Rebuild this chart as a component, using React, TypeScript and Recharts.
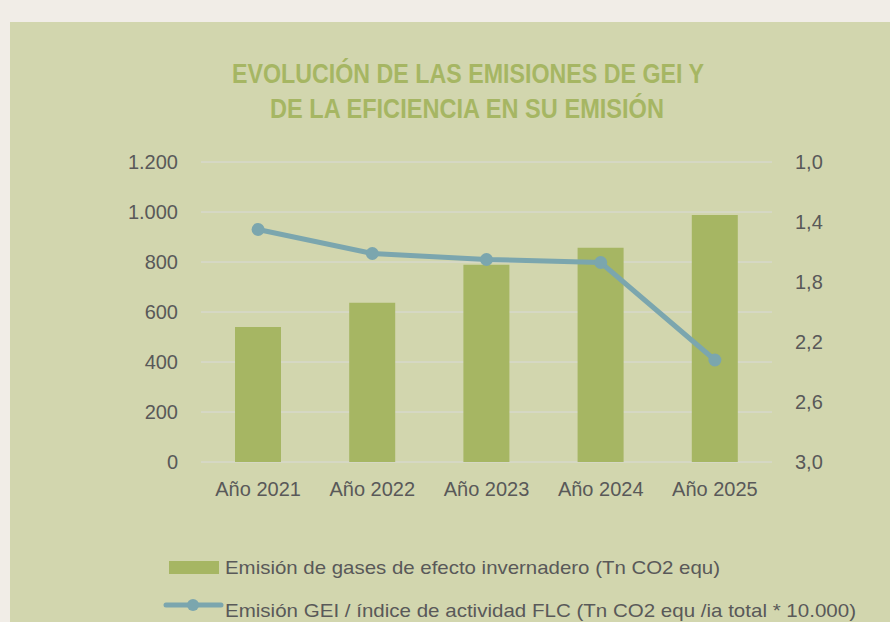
import React from 'react';
import { ComposedChart, Bar, Line, XAxis, YAxis, CartesianGrid } from 'recharts';

const categories = ['Año 2021', 'Año 2022', 'Año 2023', 'Año 2024', 'Año 2025'];
const emisiones = [540, 637, 789, 857, 988];
const eficiencia = [1.45, 1.61, 1.65, 1.67, 2.32];
const leftTicks = [0, 200, 400, 600, 800, 1000, 1200];
const rightTicks = [1.0, 1.4, 1.8, 2.2, 2.6, 3.0];
const titleLines = ['EVOLUCIÓN DE LAS EMISIONES DE GEI Y', 'DE LA EFICIENCIA EN SU EMISIÓN'];
const seriesNames = [
  'Emisión de gases de efecto invernadero (Tn CO2 equ)',
  'Emisión GEI / índice de actividad FLC (Tn CO2 equ /ia total * 10.000)',
];

const data = categories.map((c, i) => ({ cat: c, emis: emisiones[i], efic: eficiencia[i] }));

const BAR = '#a6b663';
const LINE = '#7ba6ae';
const TXT = '#595959';
const FONT = '"Liberation Sans", Arial, sans-serif';

const fmtLeft = (v: number) => v.toLocaleString('de-DE');
const fmtRight = (v: number) => v.toFixed(1).replace('.', ',');

export default function App() {
  return (
    <div style={{ position: 'absolute', left: 0, top: 0, width: 890, height: 622, background: '#f1ede7', overflow: 'hidden' }}>
      <div style={{ position: 'absolute', left: 10, top: 22, width: 880, height: 600, background: '#d2d6ae' }} />
      <svg style={{ position: 'absolute', left: 0, top: 0 }} width={890} height={130}>
        <text x={468} y={83} textAnchor="middle" fill={BAR} fontFamily={FONT} fontWeight="bold" fontSize={27}
          textLength={472} lengthAdjust="spacingAndGlyphs">{titleLines[0]}</text>
        <text x={467} y={118} textAnchor="middle" fill={BAR} fontFamily={FONT} fontWeight="bold" fontSize={27}
          textLength={394} lengthAdjust="spacingAndGlyphs">{titleLines[1]}</text>
      </svg>
      <div style={{ position: 'absolute', left: 0, top: 0 }}>
        <ComposedChart width={890} height={622} data={data} margin={{ top: 162, right: 0, left: 0, bottom: 100 }}>
          <CartesianGrid yAxisId="left" vertical={false} stroke="#d9d9d9" strokeWidth={1} />
          <XAxis dataKey="cat" height={60} axisLine={false} tickLine={false} tickMargin={14}
            tick={{ fill: TXT, fontSize: 20, fontFamily: FONT }} interval={0} />
          <YAxis yAxisId="left" orientation="left" width={201} domain={[0, 1200]} ticks={leftTicks}
            axisLine={false} tickLine={false} tickMargin={17} tickFormatter={fmtLeft}
            tick={{ fill: TXT, fontSize: 20, fontFamily: FONT }} />
          <YAxis yAxisId="right" orientation="right" width={118} domain={[1, 3]} ticks={rightTicks} reversed
            axisLine={false} tickLine={false} tickMargin={17} tickFormatter={fmtRight}
            tick={{ fill: TXT, fontSize: 20, fontFamily: FONT, textAnchor: 'start' }} />
          <Bar yAxisId="left" dataKey="emis" fill={BAR} barSize={46} isAnimationActive={false} />
          <Line yAxisId="right" dataKey="efic" stroke={LINE} strokeWidth={5}
            dot={{ r: 6.5, fill: LINE, stroke: LINE, strokeWidth: 0 }} isAnimationActive={false} />
        </ComposedChart>
      </div>
      <svg style={{ position: 'absolute', left: 0, top: 540 }} width={890} height={82}>
        <rect x={169} y={21} width={50} height={13} fill={BAR} />
        <text x={225} y={34} fill={TXT} fontFamily={FONT} fontSize={19} textLength={495} lengthAdjust="spacingAndGlyphs">{seriesNames[0]}</text>
        <line x1={166} y1={65} x2={221} y2={65} stroke={LINE} strokeWidth={5} strokeLinecap="round" />
        <circle cx={193} cy={65} r={6} fill={LINE} />
        <text x={225} y={77} fill={TXT} fontFamily={FONT} fontSize={19} textLength={631} lengthAdjust="spacingAndGlyphs">{seriesNames[1]}</text>
      </svg>
    </div>
  );
}
